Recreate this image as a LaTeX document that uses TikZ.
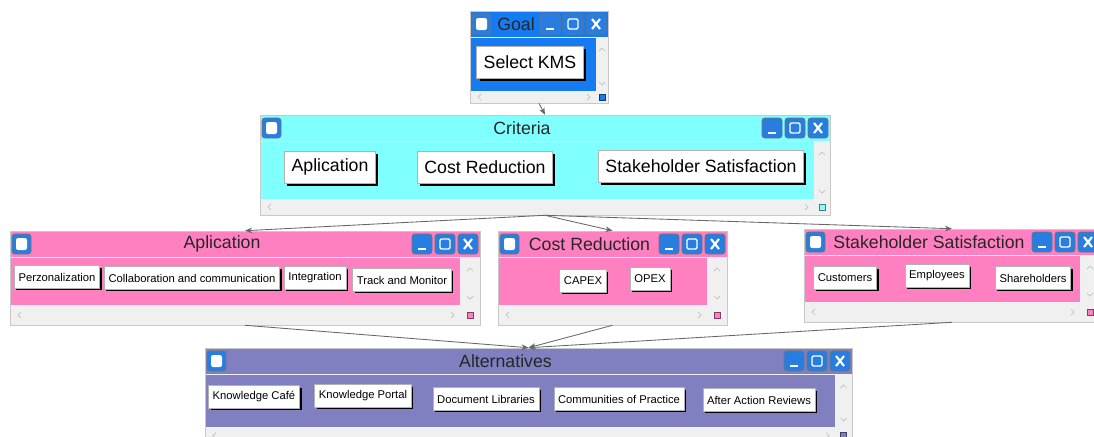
\documentclass[tikz,border=0pt]{standalone}
\usepackage{fontspec}
\setmainfont{Liberation Sans}
\usepackage{tikz}
\usetikzlibrary{arrows.meta,fit,shadows}
\usepackage{xcolor}

\definecolor{goalblue}{RGB}{22,122,240}
\definecolor{iconblue}{RGB}{40,125,225}
\definecolor{critcyan}{RGB}{128,255,255}
\definecolor{critpink}{RGB}{255,128,192}
\definecolor{altpurple}{RGB}{128,128,192}
\definecolor{scrollgray}{RGB}{240,240,240}
\definecolor{framegray}{RGB}{200,200,200}

\tikzset{
  winicon/.style={draw=black!55, fill=iconblue, rounded corners=2pt, line width=0.5pt},
  wintitle/.style={font=\fontsize{12.6}{14}\selectfont, text=black!85, inner sep=0pt},
  chev/.style={draw=black!25, line width=0.5pt},
  bigbtn/.style={draw=gray!60, fill=white, font=\fontsize{12.6}{14}\selectfont,
    inner xsep=5pt, minimum height=23pt,
    drop shadow={shadow xshift=2pt, shadow yshift=-2pt, fill=black, opacity=1}},
  smallbtn/.style={draw=gray!60, fill=white, font=\fontsize{8}{9}\selectfont,
    inner xsep=3pt, minimum height=16pt,
    drop shadow={shadow xshift=1.5pt, shadow yshift=-1.5pt, fill=black, opacity=1}},
  link/.style={draw=black!60, line width=0.6pt, -{Stealth[length=5pt,width=4pt]}}
}

% window: name, x1, y1, x2, y2, scroll width, colour, title
\newcommand{\kmswin}[8]{%
  \fill[scrollgray] (#2,#3) rectangle (#4,#5);
  \fill[#7] (#2,#3) rectangle (#4,#3+26);
  \fill[#7] (#2+1,#3+27) rectangle (#4-#6,#5-#6);
  \node[fit={(#2,#3) (#4,#5)}, inner sep=0pt, draw=framegray] (#1) {};
  % left icon
  \draw[winicon] (#2+2,#3+3) rectangle (#2+21,#3+23);
  \fill[white, rounded corners=1.5pt] (#2+6,#3+7) rectangle (#2+17,#3+19);
  % minimise, maximise, close
  \draw[winicon] (#4-68,#3+3) rectangle (#4-48,#3+23);
  \draw[white, line width=1.2pt] (#4-62,#3+18) -- (#4-54,#3+18);
  \draw[winicon] (#4-45,#3+3) rectangle (#4-25,#3+23);
  \draw[white, line width=1pt, rounded corners=1pt] (#4-40,#3+8) rectangle (#4-30,#3+18);
  \draw[winicon] (#4-22,#3+3) rectangle (#4-2,#3+23);
  \draw[white, line width=1.5pt] (#4-16,#3+8) -- (#4-8,#3+18) (#4-16,#3+18) -- (#4-8,#3+8);
  \node[wintitle] (#1-title) at ({(#2+#4-46)/2},#3+13) {#8};
  % scroll bars
  \draw[chev] (#4-#6/2-3,#3+40) -- ++(3,-3) -- ++(3,3);
  \draw[chev] (#4-#6/2-3,#5-#6-9) -- ++(3,3) -- ++(3,-3);
  \draw[chev] (#2+11,#5-#6/2-3) -- ++(-3,3) -- ++(3,3);
  \draw[chev] (#4-#6-9,#5-#6/2-3) -- ++(3,3) -- ++(-3,3);
  \filldraw[fill=#7, draw=#7!50!black, line width=0.3pt] (#4-#6/2-3,#5-#6/2-3) rectangle ++(6,6);
}

\begin{document}
\begin{tikzpicture}[x=0.025cm, y=-0.025cm]
  \fill[white] (0,0) rectangle (1094,436);
  \clip (0,0) rectangle (1094,436);

  % windows
  \kmswin{goal}{470}{11}{608}{103}{12}{goalblue}{Goal}
  \kmswin{crit}{260}{115}{830}{215}{16}{critcyan}{Criteria}
  \kmswin{apl}{10}{231}{480}{325}{20}{critpink}{Aplication}
  \kmswin{cost}{498}{231}{727}{325}{20}{critpink}{Cost Reduction}
  \kmswin{stake}{804}{229}{1100}{322}{20}{critpink}{Stakeholder Satisfaction}
  \kmswin{alt}{205}{348}{852}{444}{17}{altpurple}{Alternatives}

  % buttons
  \node[bigbtn] (kms) at (530,62) {Select KMS};
  \node[bigbtn] (c-apl) at (330,167) {Aplication};
  \node[bigbtn] (c-cost) at (485,167) {Cost Reduction};
  \node[bigbtn] (c-stake) at (701,166) {Stakeholder Satisfaction};

  \node[smallbtn] (perz) at (57,277) {Perzonalization};
  \node[smallbtn] (collab) at (192,278) {Collaboration and communication};
  \node[smallbtn] (integ) at (315,278) {Integration};
  \node[smallbtn] (track) at (402,280) {Track and Monitor};

  \node[smallbtn] (capex) at (583,281) {CAPEX};
  \node[smallbtn] (opex) at (650,279) {OPEX};

  \node[smallbtn] (cust) at (845,278) {Customers};
  \node[smallbtn] (empl) at (937,276) {Employees};
  \node[smallbtn] (share) at (1033,278) {Shareholders};

  \node[smallbtn] (cafe) at (254,397) {Knowledge Café};
  \node[smallbtn] (portal) at (363,396) {Knowledge Portal};
  \node[smallbtn] (doclib) at (486,399) {Document Libraries};
  \node[smallbtn] (cop) at (619,399) {Communities of Practice};
  \node[smallbtn] (aar) at (759,400) {After Action Reviews};

  % connectors
  \draw[link] (goal.south) -- (crit.north);
  \draw[link] (crit.south) -- (apl.north);
  \draw[link] (crit.south) -- (cost.north);
  \draw[link] (crit.south) -- (stake.north);
  \draw[link] (apl.south) -- (alt.north);
  \draw[link] (cost.south) -- (alt.north);
  \draw[link] (stake.south) -- (alt.north);
\end{tikzpicture}
\end{document}
